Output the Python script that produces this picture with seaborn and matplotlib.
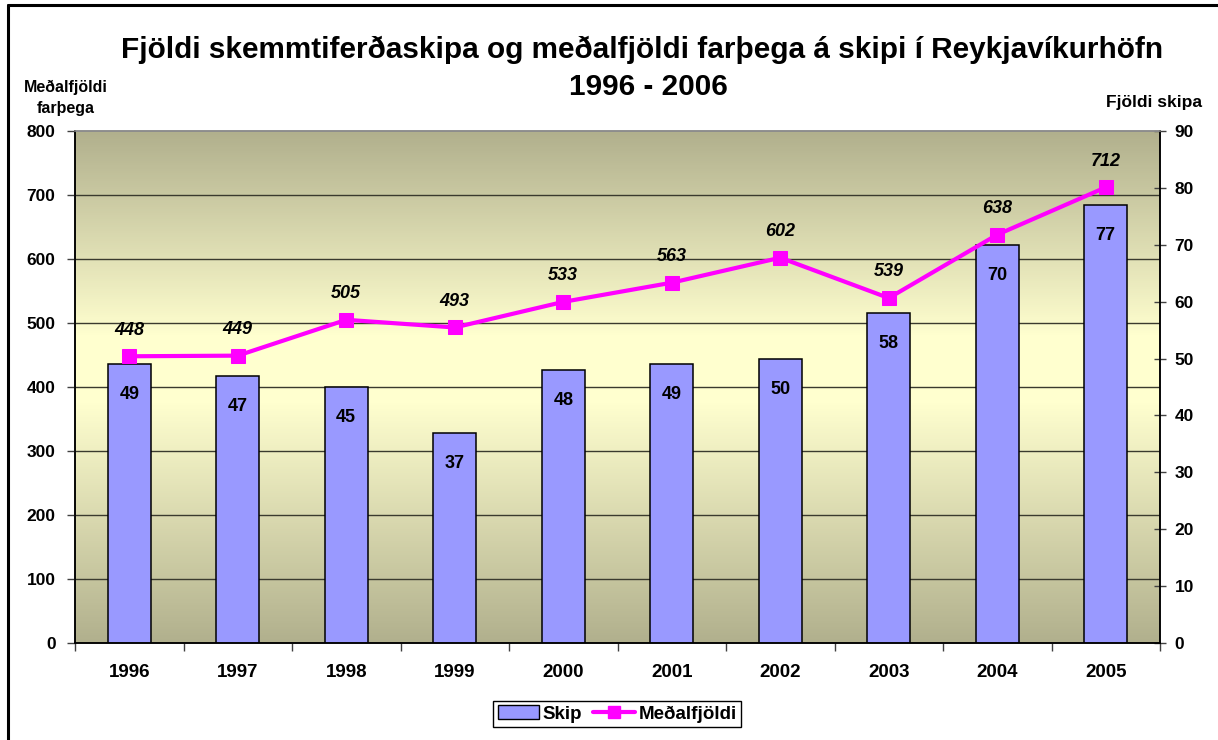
import seaborn as sns
import pandas as pd
import numpy as np
import matplotlib.pyplot as plt
from matplotlib.patches import Patch
from matplotlib.lines import Line2D
from matplotlib.colors import LinearSegmentedColormap

# data
years = ["1996", "1997", "1998", "1999", "2000", "2001", "2002", "2003", "2004", "2005"]
skip = [49, 47, 45, 37, 48, 49, 50, 58, 70, 77]
farthegar = [448, 449, 505, 493, 533, 563, 602, 539, 638, 712]

sns.set_theme(style="white")
plt.rcParams['font.family'] = ['Liberation Sans', 'DejaVu Sans']
plt.rcParams['font.weight'] = 'bold'
plt.rcParams['text.color'] = 'black'
plt.rcParams['xtick.labelcolor'] = 'black'
plt.rcParams['ytick.labelcolor'] = 'black'

df = pd.DataFrame({"ar": years, "skip": skip, "farthegar": farthegar})
df["pos"] = np.arange(len(df))

fig = plt.figure(figsize=(12.18, 7.40), dpi=100)
ax = fig.add_axes([75 / 1218, 1 - 643 / 740, (1160 - 75) / 1218, (643 - 131) / 740])

# background gradient (olive -> pale yellow -> olive)
dark = "#b1b08d"
light = "#ffffcf"
cmap = LinearSegmentedColormap.from_list("bg", [(0, dark), (0.47, light), (0.6, light), (1.0, dark)])
grad = np.linspace(0, 1, 256).reshape(-1, 1)
ax.imshow(grad, cmap=cmap, aspect="auto", extent=[0, 1, 0, 1], transform=ax.transAxes,
          origin="lower", zorder=0)

# bars (Fjöldi skipa, right axis)
sns.barplot(data=df, x="ar", y="skip", ax=ax, color="#9999ff", saturation=1,
            edgecolor="black", linewidth=1.1, width=0.4, zorder=3)
ax.set_xlim(-0.5, len(years) - 0.5)
ax.set_ylim(0, 90)

# line (Meðalfjöldi farþega, left axis)
ax2 = ax.twinx()
sns.lineplot(data=df, x="pos", y="farthegar", ax=ax2, color="#ff00ff", linewidth=3,
             marker="s", markersize=10, markeredgecolor="#ff00ff", zorder=6)
ax2.set_ylim(0, 800)
ax2.set_xlim(-0.5, len(years) - 0.5)

# twinx moves the host ticks, so set sides afterwards
ax.yaxis.tick_right()
ax.set_yticks(np.arange(0, 91, 10))
ax.tick_params(axis="y", which="major", direction="inout", length=9, width=1,
               color="#404040", labelsize=12.5, pad=6, left=False, right=True,
               labelleft=False, labelright=True)

# gridlines follow the left axis (every 100 of 800)
ax.set_yticks(np.arange(0, 90.1, 90 / 8), minor=True)
ax.tick_params(axis="y", which="minor", length=0, left=False, right=False)
ax.grid(axis="y", which="minor", color="#3a3a2e", linewidth=1)
ax.grid(axis="y", which="major", visible=False)
ax.grid(axis="x", visible=False)
ax.set_axisbelow("line")

ax.set_xticks(np.arange(len(years)))
ax.set_xticklabels(years)
ax.set_xticks(np.arange(-0.5, len(years)), minor=True)
ax.tick_params(axis="x", which="major", length=0, labelsize=13.5, pad=15)
ax.tick_params(axis="x", which="minor", direction="out", length=6, width=1,
               color="#404040", bottom=True)
ax.set_xlabel("")
ax.set_ylabel("")

ax2.yaxis.tick_left()
ax2.set_yticks(np.arange(0, 801, 100))
ax2.tick_params(axis="y", direction="out", length=6, width=1, color="#404040",
                labelsize=12.5, pad=8, left=True, right=False,
                labelleft=True, labelright=False)
ax2.set_xlabel("")
ax2.set_ylabel("")

for i, v in enumerate(skip):
    ax.text(i, v - 5.4, str(v), ha="center", va="center", fontsize=13,
            fontweight="bold", zorder=5)

for i, v in enumerate(farthegar):
    ax2.text(i, v + 41, str(v), ha="center", va="center", fontsize=13,
             fontweight="bold", fontstyle="italic", zorder=7)

for a in (ax, ax2):
    a.spines["left"].set_color("black")
    a.spines["right"].set_color("black")
    a.spines["bottom"].set_color("black")
    a.spines["top"].set_color("#8c8c8c")
    for s in a.spines.values():
        s.set_linewidth(1.1)

# titles and axis captions
fig.text(642 / 1218, 1 - 50 / 740,
         "Fjöldi skemmtiferðaskipa og meðalfjöldi farþega á skipi í Reykjavíkurhöfn",
         ha="center", va="center", fontsize=21.4, fontweight="bold")
fig.text(648 / 1218, 1 - 87 / 740, "1996 - 2006",
         ha="center", va="center", fontsize=21.4, fontweight="bold")
fig.text(66 / 1218, 1 - 98 / 740, "Meðalfjöldi\nfarþega", ha="center", va="center",
         fontsize=11.5, fontweight="bold", linespacing=1.5)
fig.text(1154 / 1218, 1 - 102 / 740, "Fjöldi skipa", ha="center", va="center",
         fontsize=12.5, fontweight="bold")

# legend
handles = [Patch(facecolor="#9999ff", edgecolor="black", linewidth=1),
           Line2D([0], [0], color="#ff00ff", linewidth=3, marker="s", markersize=9)]
fig.legend(handles, ["Skip", "Meðalfjöldi"], loc="center", ncol=2,
           bbox_to_anchor=(617 / 1218, 1 - 714 / 740),
           frameon=True, fancybox=False, edgecolor="black", framealpha=1,
           handlelength=2.2, handletextpad=0.2, columnspacing=0.6,
           borderpad=0.25, prop={"weight": "bold", "size": 13.5})

# outer chart border (left and top visible)
fig.add_artist(Line2D([8 / 1218, 8 / 1218], [0, 1 - 5 / 740], transform=fig.transFigure,
                      color="black", linewidth=2.2))
fig.add_artist(Line2D([8 / 1218, 1], [1 - 5 / 740, 1 - 5 / 740], transform=fig.transFigure,
                      color="black", linewidth=2.2))

plt.savefig("out.png", dpi=100)
